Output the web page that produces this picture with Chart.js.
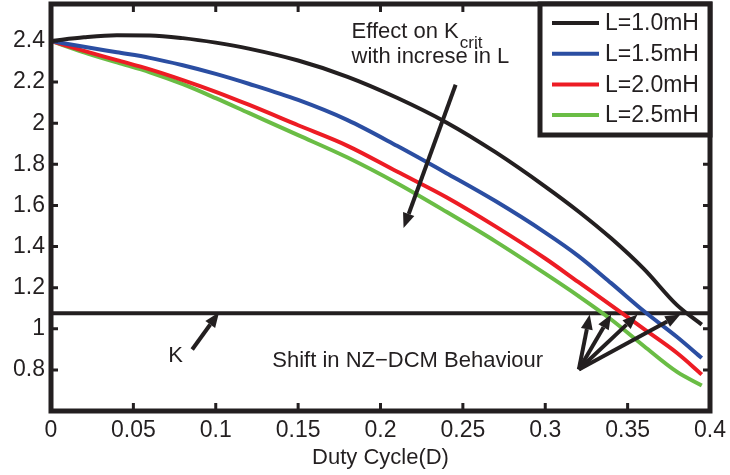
<!DOCTYPE html>
<html>
<head>
<meta charset="utf-8">
<script src="https://cdn.jsdelivr.net/npm/chart.js@4.4.1/dist/chart.umd.min.js"></script>
<style>
    html, body { margin: 0; padding: 0; background: #fff; }
    #wrap { width: 730px; height: 475px; }
</style>
</head>
<body>
<div id="wrap"><canvas id="kcritChart" width="730" height="475"></canvas></div>
<script>
// values
const dutyCycle = [0, 0.02, 0.04, 0.06, 0.08, 0.10, 0.12, 0.15, 0.18, 0.21, 0.24, 0.27, 0.30, 0.32, 0.34, 0.36, 0.38, 0.395];
const kcritL10 = [2.40, 2.418, 2.428, 2.427, 2.414, 2.392, 2.363, 2.305, 2.226, 2.124, 2.004, 1.858, 1.692, 1.572, 1.44, 1.29, 1.115, 1.02];
const kcritL15 = [2.40, 2.372, 2.345, 2.318, 2.282, 2.24, 2.192, 2.113, 2.015, 1.89, 1.757, 1.62, 1.468, 1.355, 1.222, 1.085, 0.96, 0.858];
const kcritL20 = [2.40, 2.352, 2.307, 2.262, 2.21, 2.153, 2.09, 1.99, 1.89, 1.765, 1.64, 1.497, 1.342, 1.228, 1.114, 0.998, 0.882, 0.778];
const kcritL25 = [2.40, 2.345, 2.296, 2.248, 2.19, 2.122, 2.05, 1.942, 1.833, 1.708, 1.569, 1.424, 1.268, 1.16, 1.045, 0.915, 0.79, 0.724];
const seriesLabels = ['L=1.0mH', 'L=1.5mH', 'L=2.0mH', 'L=2.5mH'];
const kValue = 1.076;
const kRange = [0, 0.4];

const xTicks = [0, 0.05, 0.1, 0.15, 0.2, 0.25, 0.3, 0.35, 0.4];
const xTickLabels = ['0', '0.05', '0.1', '0.15', '0.2', '0.25', '0.3', '0.35', '0.4'];
const yTicks = [0.8, 1.0, 1.2, 1.4, 1.6, 1.8, 2.0, 2.2, 2.4];
const yTickLabels = ['0.8', '1', '1.2', '1.4', '1.6', '1.8', '2', '2.2', '2.4'];

// annotation arrows in data units: [fromD, fromK, toD, toK]
const effectArrow = [0.2456, 2.187, 0.214, 1.49];
const kArrow = [0.0857, 0.899, 0.102, 1.08];
const shiftArrows = [
    [0.3204, 0.802, 0.327, 1.07],
    [0.3204, 0.802, 0.340, 1.07],
    [0.3204, 0.802, 0.356, 1.07],
    [0.3204, 0.802, 0.382, 1.07]
];

const INK = '#231f20';
const FONT = '"Liberation Sans", Arial, sans-serif';
const colors = [INK, '#2b4ea2', '#ed1c24', '#6abd45'];

function toPoints(xs, ys) {
    return xs.map((x, i) => ({ x: x, y: ys[i] }));
}

function drawArrow(ctx, x1, y1, x2, y2) {
    let ang = Math.atan2(y2 - y1, x2 - x1);
    let headLen = 15, headW = 6;
    let bx = x2 - headLen * Math.cos(ang), by = y2 - headLen * Math.sin(ang);
    ctx.beginPath();
    ctx.moveTo(x1, y1);
    ctx.lineTo(bx, by);
    ctx.lineWidth = 4;
    ctx.strokeStyle = INK;
    ctx.stroke();
    ctx.beginPath();
    ctx.moveTo(x2, y2);
    ctx.lineTo(bx + headW * Math.sin(ang), by - headW * Math.cos(ang));
    ctx.lineTo(bx - headW * Math.sin(ang), by + headW * Math.cos(ang));
    ctx.closePath();
    ctx.fillStyle = INK;
    ctx.fill();
}

const decorations = {
    id: 'decorations',
    afterDraw(chart) {
        let ctx = chart.ctx;
        let area = chart.chartArea;
        let xs = chart.scales.x, ys = chart.scales.y;
        ctx.save();

        // inward ticks
        ctx.strokeStyle = INK;
        ctx.lineWidth = 3;
        xTicks.forEach(v => {
            let px = xs.getPixelForValue(v);
            ctx.beginPath();
            ctx.moveTo(px, area.bottom); ctx.lineTo(px, area.bottom - 8);
            ctx.moveTo(px, area.top); ctx.lineTo(px, area.top + 8);
            ctx.stroke();
        });
        yTicks.forEach(v => {
            let py = ys.getPixelForValue(v);
            ctx.beginPath();
            ctx.moveTo(area.left, py); ctx.lineTo(area.left + 7, py);
            ctx.moveTo(area.right, py); ctx.lineTo(area.right - 7, py);
            ctx.stroke();
        });

        // frame
        ctx.lineWidth = 5;
        ctx.strokeRect(area.left, area.top, area.right - area.left, area.bottom - area.top);

        // arrows
        let arrows = [effectArrow, kArrow].concat(shiftArrows);
        arrows.forEach(a => {
            drawArrow(ctx, xs.getPixelForValue(a[0]), ys.getPixelForValue(a[1]),
                xs.getPixelForValue(a[2]), ys.getPixelForValue(a[3]));
        });

        // texts
        ctx.fillStyle = INK;
        ctx.textAlign = 'left';
        ctx.textBaseline = 'alphabetic';
        ctx.font = '22px ' + FONT;
        let ex = xs.getPixelForValue(0.1824), ey = ys.getPixelForValue(2.4145);
        ctx.fillText('Effect on K', ex, ey);
        let w = ctx.measureText('Effect on K').width;
        ctx.font = '17px ' + FONT;
        ctx.fillText('crit', ex + w + 1, ey + 10);
        ctx.font = '22px ' + FONT;
        ctx.fillText('with increse in L', ex, ys.getPixelForValue(2.2935));
        ctx.fillText('K', xs.getPixelForValue(0.0711), ys.getPixelForValue(0.836));
        ctx.fillText('Shift in NZ\u2212DCM Behaviour', xs.getPixelForValue(0.1343), ys.getPixelForValue(0.8155));

        // legend box in the top right corner
        let lw = 170, lh = 131;
        let lx = area.right - lw, ly = area.top;
        ctx.fillStyle = '#fff';
        ctx.fillRect(lx, ly, lw, lh);
        ctx.lineWidth = 5;
        ctx.strokeStyle = INK;
        ctx.strokeRect(lx, ly, lw, lh);
        ctx.font = '23px ' + FONT;
        ctx.textBaseline = 'middle';
        chart.data.datasets.slice(0, 4).forEach((ds, i) => {
            let rowY = ly + 19 + i * 30.7;
            ctx.beginPath();
            ctx.moveTo(lx + 12, rowY); ctx.lineTo(lx + 59, rowY);
            ctx.lineWidth = 4;
            ctx.strokeStyle = ds.borderColor;
            ctx.stroke();
            ctx.fillStyle = INK;
            ctx.fillText(ds.label, lx + 65, rowY + 1);
        });
        ctx.restore();
    }
};

Chart.defaults.font.family = FONT;
Chart.defaults.font.size = 23;
Chart.defaults.color = INK;

let curves = [kcritL10, kcritL15, kcritL20, kcritL25].map((vals, i) => ({
    label: seriesLabels[i],
    data: toPoints(dutyCycle, vals),
    borderColor: colors[i],
    borderWidth: 4,
    pointRadius: 0,
    cubicInterpolationMode: 'monotone',
    fill: false
}));
curves.push({
    label: 'K',
    data: toPoints(kRange, [kValue, kValue]),
    borderColor: INK,
    borderWidth: 4,
    pointRadius: 0,
    fill: false
});

let ctx = document.getElementById('kcritChart').getContext('2d');
let kcritChart = new Chart(ctx, {
    type: 'line',
    data: { datasets: curves },
    options: {
        responsive: false,
        animation: false,
        devicePixelRatio: 1,
        layout: { padding: { top: 4, right: 20, left: 0, bottom: 0 } },
        plugins: { legend: { display: false }, tooltip: { enabled: false } },
        scales: {
            x: {
                type: 'linear',
                min: 0,
                max: 0.4,
                grid: { display: false, drawTicks: false },
                border: { display: false },
                afterBuildTicks: function (scale) { scale.ticks = xTicks.map(v => ({ value: v })); },
                afterFit: function (scale) {
                    scale.height = 64;
                    scale.paddingLeft = 0;
                    scale.paddingRight = 0;
                },
                ticks: {
                    padding: 6,
                    maxRotation: 0,
                    autoSkip: false,
                    callback: function (value, index) { return xTickLabels[index]; }
                },
                title: {
                    display: true,
                    text: 'Duty Cycle(D)',
                    font: { size: 22 },
                    padding: { top: 0, bottom: 4 }
                }
            },
            y: {
                min: 0.6,
                max: 2.58,
                grid: { display: false, drawTicks: false },
                border: { display: false },
                afterBuildTicks: function (scale) { scale.ticks = yTicks.map(v => ({ value: v })); },
                afterFit: function (scale) {
                    scale.width = 51;
                    scale.paddingTop = 0;
                    scale.paddingBottom = 0;
                },
                ticks: {
                    padding: 6,
                    autoSkip: false,
                    callback: function (value, index) { return yTickLabels[index]; }
                }
            }
        }
    },
    plugins: [decorations]
});
</script>
</body>
</html>
